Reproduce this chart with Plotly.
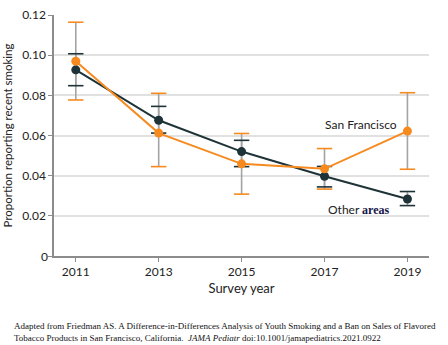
import plotly.graph_objects as go

# Survey years and proportions reporting recent smoking (point estimate, 95% CI)
years = [2011, 2013, 2015, 2017, 2019]

other_est = [0.0927, 0.0676, 0.0520, 0.0397, 0.0284]
other_hi = [0.1007, 0.0745, 0.0576, 0.0446, 0.0321]
other_lo = [0.0848, 0.0612, 0.0445, 0.0344, 0.0251]

sf_est = [0.0970, 0.0612, 0.0459, 0.0434, 0.0622]
sf_hi = [0.1164, 0.0810, 0.0610, 0.0535, 0.0813]
sf_lo = [0.0777, 0.0445, 0.0308, 0.0333, 0.0432]

y_ticks = [0, 0.02, 0.04, 0.06, 0.08, 0.10, 0.12]
y_tick_text = ["0", "0.02", "0.04", "0.06", "0.08", "0.10", "0.12"]

DARK = "#1d3338"
ORANGE = "#f68a1f"
STEM = "#a3a3a3"
AXIS = "#8c8c8c"
FONT = "Lato"

fig = go.Figure()

# grey CI stems (no caps)
for est, hi, lo in [(other_est, other_hi, other_lo), (sf_est, sf_hi, sf_lo)]:
    fig.add_trace(go.Scatter(
        x=years, y=est, mode="markers",
        marker=dict(size=1, opacity=0),
        error_y=dict(type="data", symmetric=False,
                     array=[h - e for h, e in zip(hi, est)],
                     arrayminus=[e - l for e, l in zip(est, lo)],
                     color=STEM, thickness=1.6, width=0),
        hoverinfo="skip", showlegend=False,
    ))

# coloured caps at the CI bounds
for hi, lo, col in [(other_hi, other_lo, DARK), (sf_hi, sf_lo, ORANGE)]:
    fig.add_trace(go.Scatter(
        x=years + years, y=hi + lo, mode="markers",
        marker=dict(symbol="line-ew", size=11, line=dict(color=col, width=1.6)),
        hoverinfo="skip", showlegend=False,
    ))

# series lines with point markers
fig.add_trace(go.Scatter(
    x=years, y=other_est, mode="lines+markers", name="Other areas",
    line=dict(color=DARK, width=2), marker=dict(color=DARK, size=9),
    showlegend=False,
))
fig.add_trace(go.Scatter(
    x=years, y=sf_est, mode="lines+markers", name="San Francisco",
    line=dict(color=ORANGE, width=2), marker=dict(color=ORANGE, size=9),
    showlegend=False,
))

fig.add_annotation(x=2018.8, y=0.0653, xref="x", yref="y", xanchor="right",
                   yanchor="middle", showarrow=False, text="San Francisco",
                   font=dict(family=FONT, size=12, color="#222"))
fig.add_annotation(x=2018.63, y=0.0231, xref="x", yref="y", xanchor="right",
                   yanchor="middle", showarrow=False,
                   text="Other <span style=\"font-family:'Liberation Serif';"
                        "font-weight:bold;color:#14144a\">areas</span>",
                   font=dict(family=FONT, size=12, color="#222"))

# label for the baseline tick, where the two axes meet
fig.add_annotation(x=0, y=y_ticks[0], xref="paper", yref="y", xanchor="right",
                   yanchor="middle", xshift=-6, showarrow=False,
                   borderpad=0, borderwidth=0, text=y_tick_text[0],
                   font=dict(family=FONT, size=12, color="#222"))

# source note
fig.add_annotation(
    x=-0.113, y=-0.262, xref="paper", yref="paper", xanchor="left", yanchor="top",
    showarrow=False, align="left",
    text=("Adapted from Friedman AS. A Difference-in-Differences Analysis of Youth Smoking and a Ban on Sales of Flavored<br>"
          "Tobacco Products in San Francisco, California.  <i>JAMA Pediatr</i> doi:10.1001/jamapediatrics.2021.0922"),
    font=dict(family="Liberation Serif", size=9.0, color="#111"),
)

fig.update_layout(
    width=448, height=345,
    margin=dict(l=50, r=19, t=7, b=89, pad=0),
    paper_bgcolor="white", plot_bgcolor="white",
    font=dict(family=FONT, size=12, color="#222"),
    xaxis=dict(
        range=[2010.475, 2019.52], tickvals=years,
        ticktext=[str(y) for y in years],
        showgrid=False, zeroline=False,
        showline=True, linecolor=AXIS, linewidth=1.5,
        ticks="outside", ticklen=4, tickcolor=AXIS, tickwidth=1,
        tickfont=dict(family=FONT, size=12, color="#222"),
        title=dict(text="Survey year", font=dict(family=FONT, size=13, color="#222"), standoff=6),
    ),
    yaxis=dict(
        range=[0, 0.12], tickmode="array", tickvals=y_ticks,
        ticktext=[""] + y_tick_text[1:],
        ticklabeloverflow="allow",
        showgrid=True, gridcolor="#e1e1e1", gridwidth=1.5, zeroline=False,
        showline=True, linecolor=AXIS, linewidth=1.5,
        ticks="outside", ticklen=4, tickcolor=AXIS, tickwidth=1,
        tickfont=dict(family=FONT, size=12, color="#222"),
        title=dict(text="Proportion reporting recent smoking",
                   font=dict(family=FONT, size=11.5, color="#222"), standoff=7),
    ),
)

fig.write_html("out.html")
